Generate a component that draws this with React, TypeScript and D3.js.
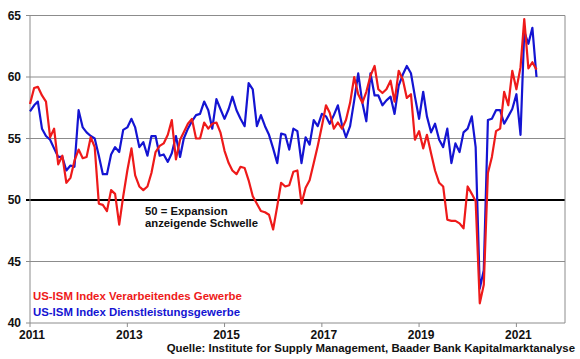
import React from "react";
import * as d3 from "d3";

const START_YEAR = 2011;
const manufacturing: number[] = [
  57.8, 59.1, 59.2, 58.5, 58.0, 55.1, 55.8, 52.9, 53.6, 51.4, 51.8, 53.2,
  54.1, 53.4, 53.5, 55.1, 54.3, 49.7, 49.6, 49.1, 50.8, 50.5, 48.0, 50.3,
  52.4, 54.2, 52.0, 51.1, 50.8, 51.1, 52.2, 53.9, 54.4, 54.6, 55.3, 56.5,
  53.3, 54.9, 55.5, 56.2, 56.6, 55.0, 55.0, 56.3, 55.8, 56.2, 56.3, 55.5,
  54.0, 53.0, 52.4, 52.1, 52.7, 52.6, 51.6, 50.3, 49.7, 49.1, 49.0, 48.8,
  47.6, 49.5, 51.4, 51.1, 51.2, 52.3, 52.4, 49.7, 51.0, 51.6, 53.0, 54.4,
  56.0, 57.7, 57.1, 55.8, 56.3, 55.8, 56.5, 57.9, 60.0, 58.6, 57.9, 58.8,
  60.1, 60.9, 59.0, 58.7, 59.0, 59.7, 58.0, 60.5, 59.8, 58.3, 58.6, 54.9,
  55.6, 54.2, 55.3, 53.8, 52.4, 51.4, 51.1, 48.4, 48.3, 48.3, 48.1, 47.7,
  51.1, 50.5, 49.9, 41.6, 43.1, 52.2, 53.5, 55.6, 55.8, 58.8, 57.7, 60.5,
  59.0, 60.8, 64.7, 60.7, 61.2, 60.6,
];
const services: number[] = [
  57.2, 57.7, 58.0, 55.8, 55.2, 54.9, 54.2, 53.5, 53.5, 52.4, 52.8, 52.7,
  57.3, 55.9, 55.5, 55.2, 55.0, 53.6, 52.1, 52.1, 53.7, 54.3, 53.9, 55.7,
  55.9, 56.6, 55.9, 54.3, 54.7, 53.6, 55.2, 55.2, 53.6, 53.7, 53.1, 53.8,
  55.2, 53.5, 55.0, 55.8, 56.4, 56.9, 57.0, 58.0, 57.3, 55.8, 58.2, 57.4,
  56.6, 57.4, 58.4, 57.3, 56.6, 56.0, 59.5, 59.0, 56.0, 56.9, 56.0, 55.3,
  54.2, 53.0, 55.4, 55.3, 54.1, 55.8, 55.6, 53.0, 55.1, 54.5, 56.5, 56.0,
  57.0, 56.8, 56.2, 56.9, 57.7, 56.1, 55.1, 56.0, 58.1, 60.3, 57.9, 56.4,
  60.3, 58.5, 58.5, 57.7, 58.1, 58.4, 57.0, 59.3, 60.2, 60.9, 60.3, 58.4,
  56.6, 58.8, 56.8, 55.5, 56.2, 54.9, 54.3, 55.8, 53.0, 54.6, 53.9, 55.5,
  55.8, 56.8, 54.3, 42.8, 44.3, 56.5, 56.6, 57.3, 57.3, 56.2, 56.8, 57.4,
  58.6, 55.3, 63.7, 62.7, 64.0, 60.0,
];
const yTicks: number[] = [40, 45, 50, 55, 60, 65];
const xTickYears: number[] = [2011, 2013, 2015, 2017, 2019, 2021];
const legendLabels: string[] = [
  "US-ISM Index Verarbeitendes Gewerbe",
  "US-ISM Index Dienstleistungsgewerbe",
];
const annotationLines: string[] = ["50 = Expansion", "anzeigende Schwelle"];
const sourceText = "Quelle: Institute for Supply Management, Baader Bank Kapitalmarktanalyse";

const RED = "#ee1a1a";
const BLUE = "#1414d2";
const FONT = "'Liberation Sans', Arial, sans-serif";

export default function App() {
  const left = 30, right = 565, top = 15.5, bottom = 323;
  const x = d3.scaleTime()
    .domain([new Date(START_YEAR, 0, 1), new Date(2022, 0, 1)])
    .range([left, right]);
  const y = d3.scaleLinear().domain([40, 65]).range([bottom, top]);
  const dateOf = (i: number) => new Date(START_YEAR + Math.floor(i / 12), i % 12, 1);
  const line = d3.line<number>()
    .x((_, i) => x(dateOf(i)))
    .y((d) => y(d));

  return (
    <svg width={580} height={359} style={{ position: "absolute", left: 0, top: 0, background: "#fff" }}
      fontFamily={FONT}>
      {yTicks.map((t) => (
        <line key={"g" + t} x1={left - 4} x2={right} y1={y(t)} y2={y(t)}
          stroke={t === 50 ? "#000" : "#8c8c8c"} strokeWidth={t === 50 ? 2 : 1} />
      ))}
      <line x1={left} x2={left} y1={top} y2={bottom} stroke="#8c8c8c" strokeWidth={1} />
      <line x1={right} x2={right} y1={top} y2={bottom} stroke="#8c8c8c" strokeWidth={1} />
      {xTickYears.map((yr) => (
        <line key={"t" + yr} x1={x(new Date(yr, 0, 1))} x2={x(new Date(yr, 0, 1))}
          y1={bottom} y2={bottom + 4} stroke="#8c8c8c" strokeWidth={1} />
      ))}
      {yTicks.map((t) => (
        <text key={"yl" + t} x={21} y={y(t)} dy="0.35em" textAnchor="end" fontSize={12}
          fontWeight="bold" fill="#111">{t}</text>
      ))}
      {xTickYears.map((yr) => (
        <text key={"xl" + yr} x={x(new Date(yr, 0, 1)) + 2} y={339} textAnchor="middle" fontSize={12}
          fontWeight="bold" fill="#111">{yr}</text>
      ))}
      <path d={line(services) || ""} fill="none" stroke={BLUE} strokeWidth={2.2} strokeLinejoin="round" />
      <path d={line(manufacturing) || ""} fill="none" stroke={RED} strokeWidth={2.2} strokeLinejoin="round" />
      {annotationLines.map((s, i) => (
        <text key={"a" + i} x={145} y={215 + i * 12} fontSize={11.3} fontWeight="bold" fill="#111">{s}</text>
      ))}
      <text x={33} y={300} fontSize={11.4} fontWeight="bold" fill={RED}>{legendLabels[0]}</text>
      <text x={33} y={316} fontSize={11.4} fontWeight="bold" fill={BLUE}>{legendLabels[1]}</text>
      <text x={575} y={352} textAnchor="end" fontSize={11.4} fontWeight="bold" fill="#111">{sourceText}</text>
    </svg>
  );
}
